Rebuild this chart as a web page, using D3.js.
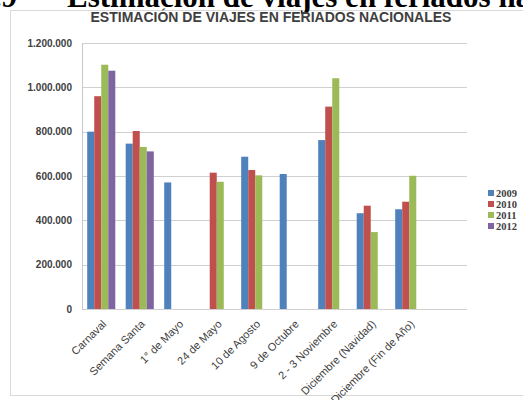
<!DOCTYPE html>
<html>
<head>
<meta charset="utf-8">
<script src="https://cdn.jsdelivr.net/npm/d3@7"></script>
<style>
  body { margin: 0; background: #fff; }
  svg { display: block; }
</style>
</head>
<body>
<svg width="523" height="400"></svg>
<script>
// Data
var categories = ["Carnaval", "Semana Santa", "1° de Mayo", "24 de Mayo", "10 de Agosto",
    "9 de Octubre", "2 - 3 Noviembre", "Diciembre (Navidad)", "Diciembre (Fin de Año)"];
var years = ["2009", "2010", "2011", "2012"];
var v2009 = [800000, 746000, 571000, null, 687000, 609000, 762000, 432000, 450000];
var v2010 = [960000, 803000, null, 615000, 627000, null, 913000, 466000, 484000];
var v2011 = [1102000, 731000, null, 574000, 603000, null, 1041000, 347000, 601000];
var v2012 = [1075000, 711000, null, null, null, null, null, null, null];
var series = [v2009, v2010, v2011, v2012];
var yTicks = [0, 200000, 400000, 600000, 800000, 1000000, 1200000];
var colors = ["#4F81BD", "#C0504D", "#9BBB59", "#8064A2"];

var svg = d3.select("svg");

// chart frame
svg.append("rect")
    .attr("x", 10.5).attr("y", 10.5)
    .attr("width", 540).attr("height", 385)
    .attr("fill", "none")
    .attr("stroke", "#d9d9d9");

// cut-off heading on top of the page
svg.append("text")
    .attr("x", 17).attr("y", 7)
    .attr("text-anchor", "end")
    .attr("font-family", "Liberation Serif, serif")
    .attr("font-weight", "bold")
    .attr("font-size", 31)
    .attr("fill", "#000")
    .text("4.9");

svg.append("text")
    .attr("x", 67).attr("y", 7)
    .attr("font-family", "Liberation Serif, serif")
    .attr("font-weight", "bold")
    .attr("font-size", 31)
    .attr("fill", "#000")
    .text("Estimación de viajes en feriados nacionales");

// chart title
svg.append("text")
    .attr("x", 271).attr("y", 22)
    .attr("text-anchor", "middle")
    .attr("font-family", "Liberation Sans, sans-serif")
    .attr("font-weight", "bold")
    .attr("font-size", 14)
    .attr("fill", "#404040")
    .text("ESTIMACIÓN DE VIAJES EN FERIADOS NACIONALES");

var plotLeft = 82, plotRight = 467, plotTop = 43, plotBottom = 309;

// 9 categories use 9/10 of the plot width (Excel leaves an empty slot)
var x = d3.scaleBand()
    .domain(categories)
    .range([plotLeft, plotLeft + (plotRight - plotLeft) * 9 / 10])
    .paddingInner(0.27)
    .paddingOuter(0.135);

var xSub = d3.scaleBand()
    .domain(years)
    .range([0, x.bandwidth()]);

var y = d3.scaleLinear()
    .domain([0, 1200000])
    .range([plotBottom, plotTop]);

var fmt = function (d) {
    return d3.format(",")(d).replace(/,/g, ".");
};

// gridlines
svg.append("g")
    .selectAll("line")
    .data(yTicks)
    .enter()
    .append("line")
    .attr("x1", plotLeft).attr("x2", plotRight)
    .attr("y1", function (d) { return Math.round(y(d)) + 0.5; })
    .attr("y2", function (d) { return Math.round(y(d)) + 0.5; })
    .attr("stroke", "#d0d0d0")
    .attr("stroke-width", 1.2);

// y axis line
svg.append("line")
    .attr("x1", plotLeft + 0.5).attr("x2", plotLeft + 0.5)
    .attr("y1", plotTop).attr("y2", plotBottom)
    .attr("stroke", "#c8c8c8");

// y tick labels
svg.append("g")
    .selectAll("text")
    .data(yTicks)
    .enter()
    .append("text")
    .attr("x", 72)
    .attr("y", function (d) { return y(d); })
    .attr("dy", "0.35em")
    .attr("text-anchor", "end")
    .attr("font-family", "Liberation Sans, sans-serif")
    .attr("font-weight", "bold")
    .attr("font-size", 10)
    .attr("fill", "#404040")
    .text(fmt);

// bars
series.forEach(function (vals, i) {
    svg.append("g")
        .selectAll("rect")
        .data(vals.map(function (v, j) { return { cat: categories[j], v: v }; })
            .filter(function (d) { return d.v != null; }))
        .enter()
        .append("rect")
        .attr("x", function (d) { return x(d.cat) + xSub(years[i]); })
        .attr("width", xSub.bandwidth())
        .attr("y", function (d) { return y(d.v); })
        .attr("height", function (d) { return plotBottom - y(d.v); })
        .attr("fill", colors[i]);
});

// category labels
svg.append("g")
    .selectAll("text")
    .data(categories)
    .enter()
    .append("text")
    .attr("transform", function (d) {
        return "translate(" + (x(d) + x.bandwidth() / 2 + 3) + "," + (plotBottom + 13) + ") rotate(-45)";
    })
    .attr("text-anchor", "end")
    .attr("dy", "0.35em")
    .attr("font-family", "Liberation Sans, sans-serif")
    .attr("font-size", 11)
    .attr("fill", "#404040")
    .text(function (d) { return d; });

// legend
var legend = svg.append("g")
    .selectAll("g")
    .data(years)
    .enter()
    .append("g")
    .attr("transform", function (d, i) { return "translate(488," + (193 + i * 11) + ")"; });

legend.append("rect")
    .attr("x", 0).attr("y", -3)
    .attr("width", 6).attr("height", 6)
    .attr("fill", function (d, i) { return colors[i]; });

legend.append("text")
    .attr("x", 8)
    .attr("dy", "0.35em")
    .attr("font-family", "Liberation Serif, serif")
    .attr("font-weight", "bold")
    .attr("font-size", 10.5)
    .attr("fill", "#404040")
    .text(function (d) { return d; });
</script>
</body>
</html>
